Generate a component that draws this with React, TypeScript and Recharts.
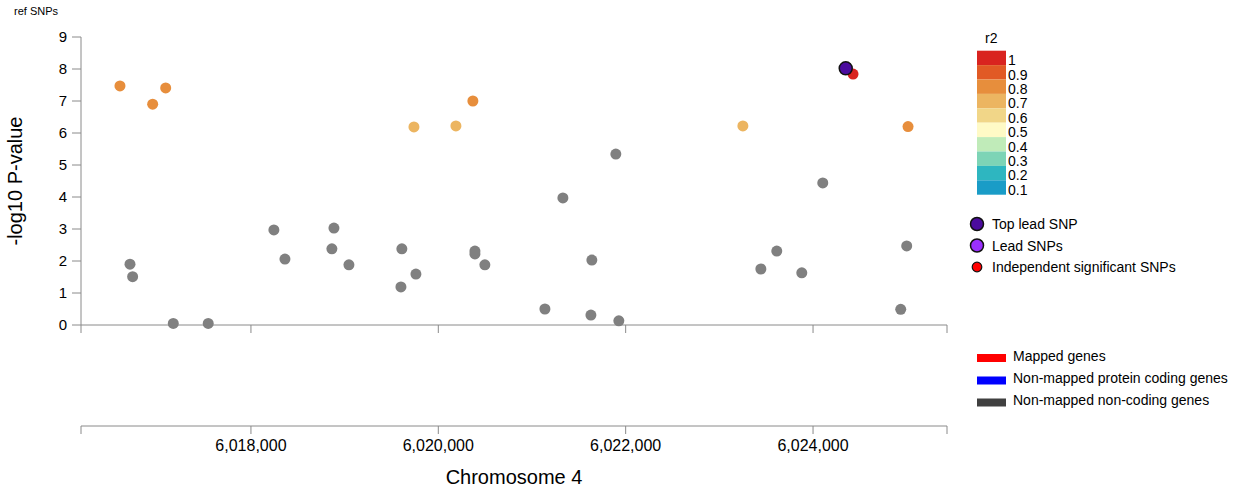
import { Cell, Scatter, ScatterChart, XAxis, YAxis } from 'recharts'

// plotted region (bp) and ticks
const xDomain = [6016186, 6025430]
const xTicks = [6016186, 6018000, 6020000, 6022000, 6024000, 6025430]
const xLabelTicks = [6018000, 6020000, 6022000, 6024000]
const yTicks = [0, 1, 2, 3, 4, 5, 6, 7, 8, 9]

// r2 colour bar, top (1) to bottom (0.1)
const r2Labels = ['1', '0.9', '0.8', '0.7', '0.6', '0.5', '0.4', '0.3', '0.2', '0.1']
const r2Colors = [
  '#D9231F',
  '#E15A25',
  '#E78E3C',
  '#ECB561',
  '#F1D688',
  '#FFFAC6',
  '#C0EBB9',
  '#7DD4B6',
  '#2EB6C0',
  '#1A9CC7',
]

// SNPs without LD info (grey)
const grayPos = [
  6016709, 6016737, 6017171, 6017544, 6018245, 6018363, 6018886, 6018864, 6019046,
  6019601, 6019611, 6019761, 6020391, 6020391, 6020497, 6021138, 6021330, 6021629,
  6021639, 6021927, 6021895, 6023443, 6023613, 6023880, 6024104, 6024936, 6025000,
]
const grayLogP = [
  1.9, 1.51, 0.05, 0.05, 2.97, 2.06, 3.03, 2.38, 1.88,
  1.19, 2.38, 1.59, 2.31, 2.22, 1.88, 0.5, 3.97, 0.31,
  2.03, 0.13, 5.34, 1.75, 2.31, 1.63, 4.44, 0.49, 2.47,
]

// SNPs in LD with the lead SNP
const ldPos = [6016602, 6016951, 6017090, 6019740, 6020188, 6020369, 6023251, 6024427, 6025014]
const ldLogP = [7.47, 6.9, 7.41, 6.19, 6.22, 7.0, 6.22, 7.84, 6.2]
const ldR2 = [0.78, 0.77, 0.78, 0.68, 0.67, 0.76, 0.66, 0.97, 0.79]

const topLeadPos = [6024349]
const topLeadLogP = [8.02]

const axisColor = '#8a8a8a'
const font = '"Liberation Sans", Arial, Helvetica, sans-serif'
const W = 1247
const H = 493

function r2Color(r2: number) {
  const i = Math.max(0, Math.min(9, Math.floor((1 - r2) * 10)))
  return r2Colors[i]
}

const grayData = grayPos.map((pos, i) => ({ pos, logP: grayLogP[i] }))
const ldData = ldPos.map((pos, i) => ({ pos, logP: ldLogP[i], color: r2Color(ldR2[i]) }))
const topLeadData = topLeadPos.map((pos, i) => ({ pos, logP: topLeadLogP[i] }))
// anchors for the tick marks under the SNP panel (sit on logP = 0)
const tickAnchors = xTicks.map((pos) => ({ pos, logP: 0 }))

const dot = (r: number, stroke?: string, strokeWidth = 0) => (props: any) => (
  <circle
    cx={props.cx}
    cy={props.cy}
    r={r}
    fill={props.payload?.color ?? props.fill}
    stroke={stroke ?? 'none'}
    strokeWidth={strokeWidth}
  />
)

const tickMark = (props: any) => (
  <line x1={props.cx} x2={props.cx} y1={props.cy} y2={props.cy + 8} stroke={axisColor} />
)

const noShape = () => <g />

function GeneTick({ x, y, payload }: any) {
  if (!xLabelTicks.includes(payload.value)) return <g />
  return (
    <text x={x} y={y} dy={15} textAnchor='middle' fontSize={16} fill='#000'>
      {payload.value.toLocaleString('en-US')}
    </text>
  )
}

function Legends() {
  const rowH = 14.4
  const barTop = 50.7
  return (
    <svg
      width={W}
      height={H}
      style={{ position: 'absolute', left: 0, top: 0, pointerEvents: 'none' }}
      fontFamily={font}
    >
      <text x={14} y={15} fontSize={11} fill='#000'>
        ref SNPs
      </text>
      <text
        x={22}
        y={181}
        fontSize={20}
        textAnchor='middle'
        transform='rotate(-90 22 181)'
        fill='#000'
      >
        -log10 P-value
      </text>
      <text x={514} y={484} fontSize={20} textAnchor='middle' fill='#000'>
        Chromosome 4
      </text>

      <text x={985} y={43} fontSize={14} fill='#000'>
        r2
      </text>
      {r2Labels.map((label, i) => (
        <g key={label}>
          <rect x={977} y={barTop + i * rowH} width={29} height={rowH} fill={r2Colors[i]} />
          <text x={1008} y={barTop + (i + 1) * rowH} fontSize={14} fill='#000'>
            {label}
          </text>
        </g>
      ))}

      <circle cx={977} cy={224} r={6.5} fill='#4B0B9E' stroke='#111' strokeWidth={1.5} />
      <text x={992} y={229} fontSize={14} fill='#000'>
        Top lead SNP
      </text>
      <circle cx={977} cy={245.5} r={6.5} fill='#9B30FF' stroke='#111' strokeWidth={1.5} />
      <text x={992} y={250.5} fontSize={14} fill='#000'>
        Lead SNPs
      </text>
      <circle cx={977} cy={267} r={4.8} fill='#FF0000' stroke='#111' strokeWidth={1.2} />
      <text x={992} y={272} fontSize={14} fill='#000'>
        Independent significant SNPs
      </text>

      <rect x={977} y={354} width={29} height={8} fill='#FF0000' />
      <text x={1013} y={361} fontSize={14} fill='#000'>
        Mapped genes
      </text>
      <rect x={977} y={376.5} width={29} height={8} fill='#0000FF' />
      <text x={1013} y={383} fontSize={14} fill='#000'>
        Non-mapped protein coding genes
      </text>
      <rect x={977} y={398.5} width={29} height={8} fill='#404040' />
      <text x={1013} y={405} fontSize={14} fill='#000'>
        Non-mapped non-coding genes
      </text>
    </svg>
  )
}

// gene track: only the genomic axis, no genes in this window
function GeneTrack() {
  return (
    <div style={{ position: 'absolute', left: 0, top: 0, pointerEvents: 'none' }}>
      <ScatterChart width={W} height={H} margin={{ top: 37, right: 300, bottom: 7, left: 81 }}>
        <XAxis
          dataKey='pos'
          type='number'
          domain={xDomain}
          ticks={xTicks}
          interval={0}
          allowDataOverflow
          height={60}
          tickSize={8}
          stroke={axisColor}
          tick={GeneTick}
        />
        <YAxis dataKey='logP' type='number' domain={[0, 9]} hide />
        <Scatter data={grayData} shape={noShape} isAnimationActive={false} />
      </ScatterChart>
    </div>
  )
}

export default function App() {
  return (
    <div
      style={{
        position: 'absolute',
        left: 0,
        top: 0,
        width: W,
        height: H,
        background: '#fff',
        fontFamily: font,
      }}
    >
      <GeneTrack />
      <div style={{ position: 'absolute', left: 0, top: 0 }}>
        <ScatterChart width={W} height={H} margin={{ top: 37, right: 300, bottom: 138, left: 0 }}>
          <XAxis
            dataKey='pos'
            type='number'
            domain={xDomain}
            height={30}
            stroke={axisColor}
            tick={false}
            tickLine={false}
          />
          <YAxis
            dataKey='logP'
            type='number'
            domain={[0, 9]}
            ticks={yTicks}
            interval={0}
            width={81}
            tickSize={9}
            tickMargin={5}
            stroke={axisColor}
            tick={{ fill: '#000', fontSize: 15 }}
          />
          <Scatter data={tickAnchors} shape={tickMark} isAnimationActive={false} />
          <Scatter data={grayData} fill='#808080' shape={dot(5.5)} isAnimationActive={false} />
          <Scatter data={ldData} shape={dot(5.5)} isAnimationActive={false}>
            {ldData.map((d, i) => (
              <Cell key={i} fill={d.color} />
            ))}
          </Scatter>
          <Scatter
            data={topLeadData}
            fill='#4B0B9E'
            shape={dot(6.5, '#111', 1.5)}
            isAnimationActive={false}
          />
        </ScatterChart>
      </div>
      <Legends />
    </div>
  )
}
